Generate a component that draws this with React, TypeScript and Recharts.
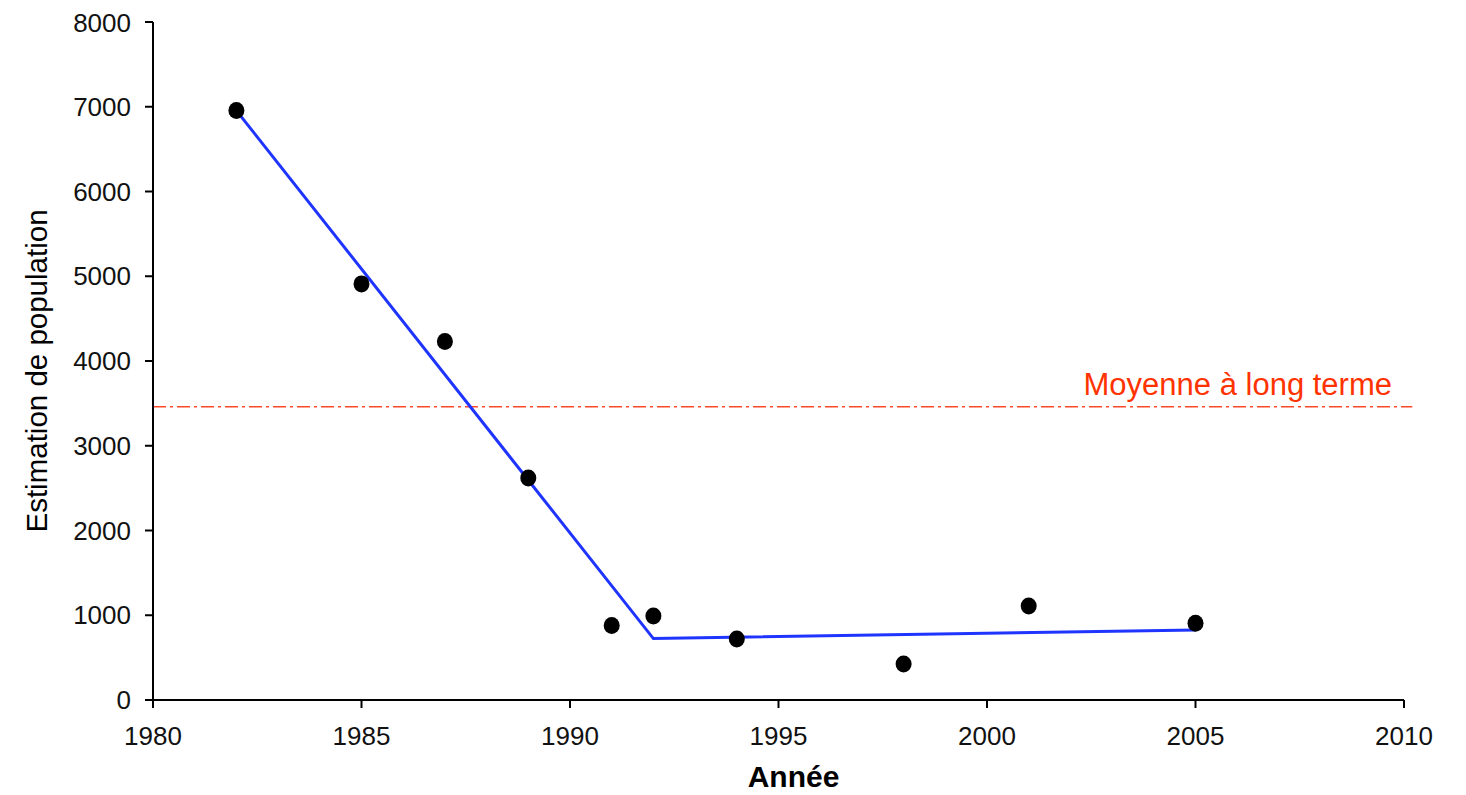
import React from "react";
import {
  ComposedChart,
  XAxis,
  YAxis,
  Scatter,
  Line,
  ReferenceLine,
  Label,
} from "recharts";

const years = [1982, 1985, 1987, 1989, 1991, 1992, 1994, 1998, 2001, 2005];
const estimates = [6955, 4910, 4230, 2620, 880, 990, 720, 425, 1110, 905];

const fitYears = [1982, 1992, 2005];
const fitValues = [6955, 725, 826];

const longTermMean = 3460;
const meanLabel = "Moyenne à long terme";

const xTicks = [1980, 1985, 1990, 1995, 2000, 2005, 2010];
const yTicks = [0, 1000, 2000, 3000, 4000, 5000, 6000, 7000, 8000];

const points = years.map((x, i) => ({ x, y: estimates[i] }));
const fit = fitYears.map((x, i) => ({ x, fy: fitValues[i] }));

const FONT = "'Liberation Sans', Arial, sans-serif";

export default function App() {
  return (
    <div style={{ width: 1450, height: 786 }}>
      <ComposedChart
        width={1450}
        height={786}
        margin={{ top: 14, right: 54, bottom: 6, left: 0 }}
      >
        <XAxis
          type="number"
          dataKey="x"
          domain={[1980, 2010]}
          ticks={xTicks}
          allowDataOverflow
          height={88}
          tickSize={8}
          tickMargin={19}
          axisLine={{ stroke: "#000", strokeWidth: 2 }}
          tickLine={{ stroke: "#000", strokeWidth: 2 }}
          tick={{ fill: "#111", fontSize: 26, fontFamily: FONT }}
        >
          <Label
            content={(props: any) => {
              const vb = props.viewBox;
              return (
                <text
                  x={vb.x + vb.width / 2 + 15}
                  y={779}
                  textAnchor="middle"
                  fontFamily={FONT}
                  fontSize={30}
                  fontWeight="bold"
                  fill="#000"
                >
                  Année
                </text>
              );
            }}
          />
        </XAxis>
        <YAxis
          type="number"
          domain={[0, 8000]}
          ticks={yTicks}
          width={145}
          tickSize={8}
          tickMargin={14}
          axisLine={{ stroke: "#000", strokeWidth: 2 }}
          tickLine={{ stroke: "#000", strokeWidth: 2 }}
          tick={{ fill: "#111", fontSize: 26, fontFamily: FONT }}
        >
          <Label
            content={(props: any) => {
              const vb = props.viewBox;
              const cx = 39;
              const cy = vb.y + vb.height / 2 + 10;
              return (
                <text
                  x={cx}
                  y={cy}
                  transform={`rotate(-90, ${cx}, ${cy})`}
                  textAnchor="middle"
                  fontFamily={FONT}
                  fontSize={29.5}
                  fill="#000"
                >
                  Estimation de population
                </text>
              );
            }}
          />
        </YAxis>
        <ReferenceLine
          segment={[
            { x: 1980, y: longTermMean },
            { x: 2010.2, y: longTermMean },
          ]}
          ifOverflow="visible"
          stroke="#ff4a2a"
          strokeWidth={1.5}
          strokeDasharray="13 4 3 4"
          label={(props: any) => {
            const vb = props.viewBox;
            return (
              <text
                x={1384}
                y={(vb.y ?? 0) - 12}
                textAnchor="end"
                fontFamily={FONT}
                fontSize={31}
                fill="#ff3300"
              >
                {meanLabel}
              </text>
            );
          }}
        />
        <Line
          data={fit}
          dataKey="fy"
          type="linear"
          stroke="#1f35ff"
          strokeWidth={3}
          dot={false}
          activeDot={false}
          isAnimationActive={false}
        />
        <Scatter
          data={points}
          dataKey="y"
          fill="#000"
          shape={(p: any) => <ellipse cx={p.cx} cy={p.cy} rx={8} ry={8.5} fill="#000" />}
          isAnimationActive={false}
        />
      </ComposedChart>
    </div>
  );
}
